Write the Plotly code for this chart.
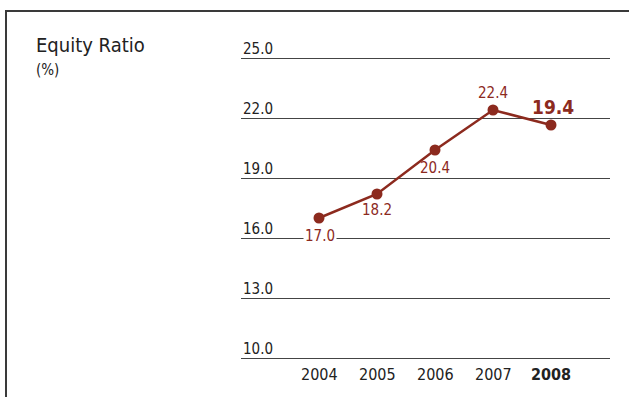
import plotly.graph_objects as go

W, H = 629, 397

# data
years = [2004, 2005, 2006, 2007, 2008]
year_labels = ['2004', '2005', '2006', '2007', '<b>2008</b>']
ratio_plotted = [17.0, 18.2, 20.4, 22.4, 21.65]   # where the points sit in the picture
ratio_labels = ['17.0', '18.2', '20.4', '22.4', '19.4']
y_ticks = [10.0, 13.0, 16.0, 19.0, 22.0, 25.0]

red = 'rgb(140,42,30)'
grey = '#3a3a3a'
font_family = 'DejaVu Sans Condensed, DejaVu Sans, sans-serif'

def px_x(p):
    return p / W

def px_y(p):
    return 1 - p / H

fig = go.Figure()
fig.add_trace(
    go.Scatter(
        x=years,
        y=ratio_plotted,
        mode='lines+markers',
        line=dict(color=red, width=2.5),
        marker=dict(color=red, size=11),
        hoverinfo='skip'
    )
)

annotations = []

# value labels
shifts = [(1, -18), (0, -16), (0, -18), (0, 17), (2, 18)]
for i, (yr, v, lab) in enumerate(zip(years, ratio_plotted, ratio_labels)):
    last = i == len(years) - 1
    annotations.append(dict(
        x=yr, y=v, xref='x', yref='y',
        text='<b>%s</b>' % lab if last else lab,
        showarrow=False,
        xanchor='center', yanchor='middle',
        xshift=shifts[i][0], yshift=shifts[i][1],
        font=dict(family=font_family, size=19 if last else 15, color=red),
        bgcolor='white' if i == 0 else 'rgba(0,0,0,0)',
        borderpad=1
    ))

# y tick labels sitting above gridlines
for t in y_ticks:
    annotations.append(dict(
        x=px_x(241), y=t, xref='paper', yref='y',
        text='%.1f' % t, showarrow=False,
        xanchor='left', yanchor='bottom', yshift=-2,
        font=dict(family=font_family, size=15, color='#222')
    ))

# year labels
for yr, lab in zip(years, year_labels):
    annotations.append(dict(
        x=yr, y=px_y(374), xref='x', yref='paper',
        text=lab, showarrow=False,
        xanchor='center', yanchor='middle',
        font=dict(family=font_family, size=16, color='#222')
    ))

# title
annotations.append(dict(
    x=px_x(34), y=px_y(45), xref='paper', yref='paper',
    text='Equity Ratio', showarrow=False,
    xanchor='left', yanchor='middle',
    font=dict(family=font_family, size=20, color='#222')
))
annotations.append(dict(
    x=px_x(34), y=px_y(70), xref='paper', yref='paper',
    text='(%)', showarrow=False,
    xanchor='left', yanchor='middle',
    font=dict(family=font_family, size=15, color='#222')
))

shapes = [
    dict(type='line', xref='paper', yref='paper', x0=px_x(5), x1=1, y0=px_y(11), y1=px_y(11),
         line=dict(color=grey, width=2)),
    dict(type='line', xref='paper', yref='paper', x0=px_x(6), x1=px_x(6), y0=px_y(10), y1=0,
         line=dict(color=grey, width=2)),
]

fig.update_xaxes(
    domain=[px_x(241), px_x(610)],
    range=[2004 - 78 / 58, 2004 + 291 / 58],
    showgrid=False, zeroline=False, showticklabels=False, showline=False
)
fig.update_yaxes(
    domain=[px_y(368), px_y(48)],
    range=[9.5, 25.5],
    tickvals=y_ticks,
    showgrid=True, gridcolor='#444', gridwidth=1,
    zeroline=False, showticklabels=False, showline=False
)
fig.update_layout(
    width=W, height=H,
    margin=dict(l=0, r=0, t=0, b=0),
    paper_bgcolor='white',
    plot_bgcolor='white',
    showlegend=False,
    annotations=annotations,
    shapes=shapes
)

fig.write_html("out.html", config={'displayModeBar': False},
               post_script="document.body.style.margin='0';")
